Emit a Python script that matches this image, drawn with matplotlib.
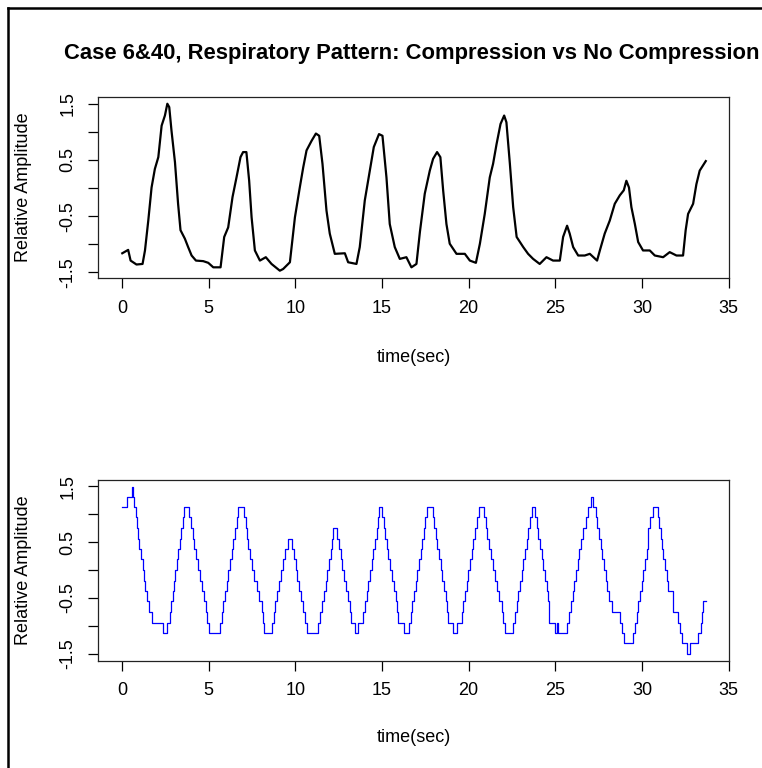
import matplotlib
matplotlib.use('Agg')
import matplotlib.pyplot as plt
from matplotlib.lines import Line2D

plt.rcParams['font.family'] = ['Liberation Sans', 'DejaVu Sans']

# compression case (top panel)
time_comp = [0.02, 0.36, 0.5, 0.84, 1.19, 1.33, 1.52, 1.71, 1.9, 2.1, 2.29, 2.48, 2.62, 2.73, 2.86,
             3.06, 3.24, 3.38, 3.63, 3.82, 4.02, 4.27, 4.69, 4.98, 5.27, 5.69, 5.9, 6.13, 6.38, 6.61,
             6.84, 6.99, 7.18, 7.34, 7.48, 7.67, 7.96, 8.3, 8.63, 9.11, 9.3, 9.69, 9.98, 10.26, 10.46,
             10.65, 10.94, 11.19, 11.38, 11.57, 11.8, 11.99, 12.28, 12.86, 13.05, 13.53, 13.72, 14.01,
             14.3, 14.53, 14.83, 15.03, 15.26, 15.45, 15.74, 16.03, 16.41, 16.7, 16.99, 17.19, 17.47,
             17.76, 17.95, 18.18, 18.37, 18.53, 18.72, 18.91, 19.3, 19.78, 20.07, 20.42, 20.65, 20.93,
             21.22, 21.41, 21.61, 21.84, 22.05, 22.18, 22.38, 22.57, 22.77, 23.15, 23.43, 23.72, 24.1,
             24.49, 24.87, 25.26, 25.45, 25.68, 25.83, 26.03, 26.32, 26.7, 26.99, 27.41, 27.57, 27.85,
             28.14, 28.43, 28.72, 28.95, 29.1, 29.25, 29.39, 29.59, 29.78, 30.06, 30.45, 30.74, 31.22,
             31.6, 31.99, 32.37, 32.52, 32.66, 32.95, 33.14, 33.33, 33.68]
amp_comp = [-1.16, -1.10, -1.29, -1.36, -1.35, -1.11, -0.58, 0.01, 0.34, 0.55, 1.11, 1.29, 1.50, 1.44, 1.02,
            0.46, -0.28, -0.75, -0.90, -1.05, -1.20, -1.29, -1.30, -1.33, -1.41, -1.41, -0.87, -0.70, -0.16, 0.19,
            0.55, 0.64, 0.64, 0.13, -0.52, -1.11, -1.29, -1.23, -1.35, -1.47, -1.44, -1.32, -0.52, 0.01, 0.37,
            0.67, 0.84, 0.97, 0.93, 0.43, -0.40, -0.81, -1.17, -1.16, -1.32, -1.35, -1.05, -0.22,
            0.31, 0.73, 0.96, 0.93, 0.19, -0.64, -1.05, -1.26, -1.23, -1.41, -1.35, -0.78, -0.10,
            0.31, 0.52, 0.64, 0.55, -0.04, -0.64, -0.99, -1.17, -1.17, -1.29, -1.33, -0.99, -0.46,
            0.19, 0.43, 0.78, 1.14, 1.29, 1.17, 0.43, -0.34, -0.87, -1.05, -1.17, -1.26, -1.35,
            -1.23, -1.29, -1.29, -0.87, -0.67, -0.81, -1.05, -1.20, -1.20, -1.17, -1.29, -1.11, -0.81,
            -0.58, -0.28, -0.13, -0.04, 0.13, 0.01, -0.34, -0.64, -0.96, -1.11, -1.11, -1.20, -1.23,
            -1.14, -1.20, -1.20, -0.75, -0.46, -0.28, 0.07, 0.31, 0.48]

# no compression case (bottom panel), step change points
time_nocomp = [0.02, 0.27, 0.56, 0.62, 0.69, 0.79, 0.85, 0.9, 1.0, 1.1, 1.19, 1.27, 1.35, 1.42, 1.54, 1.71,
               2.38, 2.62, 2.77, 2.85, 2.92, 3.0, 3.08, 3.15, 3.25, 3.35, 3.42, 3.5, 3.58,
               3.88, 3.96, 4.08, 4.15, 4.27, 4.37, 4.5, 4.6, 4.73, 4.85, 4.92, 5.0,
               5.65, 5.75, 5.85, 5.94, 6.04, 6.13, 6.23, 6.33, 6.42, 6.52, 6.62, 6.67,
               7.06, 7.13, 7.19, 7.29, 7.38, 7.52, 7.63, 7.77, 7.9, 8.06, 8.15, 8.17,
               8.67, 8.77, 8.85, 8.96, 9.06, 9.15, 9.27, 9.4, 9.6,
               9.83, 9.92, 10.02, 10.12, 10.21, 10.31, 10.42, 10.56, 10.69,
               11.32, 11.42, 11.52, 11.65, 11.75, 11.85, 11.94, 12.04, 12.13, 12.19,
               12.42, 12.54, 12.62, 12.71, 12.81, 12.92, 13.02, 13.15, 13.19, 13.44, 13.63,
               13.92, 14.02, 14.12, 14.21, 14.31, 14.4, 14.5, 14.6, 14.69, 14.75, 14.83,
               15.02, 15.12, 15.19, 15.27, 15.37, 15.46, 15.56, 15.69, 15.81, 15.88, 15.94, 16.27, 16.56,
               16.65, 16.75, 16.85, 16.94, 17.04, 17.13, 17.23, 17.33, 17.42, 17.48, 17.58,
               17.92, 18.0, 18.1, 18.19, 18.29, 18.38, 18.48, 18.58, 18.67, 18.77, 18.83, 19.08, 19.31,
               19.6, 19.69, 19.79, 19.88, 19.98, 20.08, 20.17, 20.27, 20.37, 20.46, 20.62,
               20.88, 20.98, 21.08, 21.17, 21.27, 21.38, 21.52, 21.62, 21.77, 21.9, 22.0, 22.1,
               22.58, 22.67, 22.77, 22.87, 22.96, 23.06, 23.15, 23.25, 23.35, 23.44, 23.54, 23.67,
               23.83, 23.92, 24.02, 24.12, 24.21, 24.31, 24.4, 24.5, 24.6, 24.65, 24.98, 25.08, 25.17,
               25.65, 25.81, 25.9, 26.0, 26.1, 26.19, 26.29, 26.38, 26.48, 26.58, 26.77, 26.9, 27.04,
               27.19, 27.35, 27.42, 27.52, 27.62, 27.71, 27.81, 27.92, 28.0, 28.1, 28.25, 28.73, 28.83, 28.96,
               29.5, 29.6, 29.69, 29.79, 29.88, 29.98, 30.08, 30.17, 30.27, 30.33, 30.37, 30.46, 30.62,
               30.9, 30.98, 31.08, 31.17, 31.23, 31.33, 31.42, 31.52, 31.77, 31.81, 32.1, 32.19, 32.29, 32.58,
               32.77, 33.25, 33.38, 33.48, 33.54, 33.68]
amp_nocomp = [1.12, 1.31, 1.49, 1.31, 1.12, 0.94, 0.75, 0.56, 0.38, 0.19, 0.0, -0.19, -0.38, -0.56, -0.75, -0.94,
              -1.12, -0.94, -0.75, -0.56, -0.38, -0.19, 0.0, 0.19, 0.38, 0.56, 0.75, 0.94, 1.12,
              0.94, 0.75, 0.56, 0.38, 0.19, 0.0, -0.19, -0.38, -0.56, -0.75, -0.94, -1.12,
              -0.94, -0.75, -0.56, -0.38, -0.19, 0.0, 0.19, 0.38, 0.56, 0.75, 0.94, 1.12,
              0.94, 0.75, 0.56, 0.38, 0.19, 0.0, -0.19, -0.38, -0.56, -0.75, -0.94, -1.12,
              -0.94, -0.75, -0.56, -0.38, -0.19, 0.0, 0.19, 0.38, 0.56,
              0.38, 0.19, 0.0, -0.19, -0.38, -0.56, -0.75, -0.94, -1.12,
              -0.94, -0.75, -0.56, -0.38, -0.19, 0.0, 0.19, 0.38, 0.56, 0.75,
              0.56, 0.38, 0.19, 0.0, -0.19, -0.38, -0.56, -0.75, -0.94, -1.12, -0.94,
              -0.75, -0.56, -0.38, -0.19, 0.0, 0.19, 0.38, 0.56, 0.75, 0.94, 1.12,
              0.94, 0.75, 0.56, 0.38, 0.19, 0.0, -0.19, -0.38, -0.56, -0.75, -0.94, -1.12, -0.94,
              -0.75, -0.56, -0.38, -0.19, 0.0, 0.19, 0.38, 0.56, 0.75, 0.94, 1.12,
              0.94, 0.75, 0.56, 0.38, 0.19, 0.0, -0.19, -0.38, -0.56, -0.75, -0.94, -1.12, -0.94,
              -0.75, -0.56, -0.38, -0.19, 0.0, 0.19, 0.38, 0.56, 0.75, 0.94, 1.12,
              0.94, 0.75, 0.56, 0.38, 0.19, 0.0, -0.19, -0.38, -0.56, -0.75, -0.94, -1.12,
              -0.94, -0.75, -0.56, -0.38, -0.19, 0.0, 0.19, 0.38, 0.56, 0.75, 0.94, 1.12,
              0.94, 0.75, 0.56, 0.38, 0.19, 0.0, -0.19, -0.38, -0.56, -0.94, -1.12, -0.94, -1.12,
              -0.94, -0.75, -0.56, -0.38, -0.19, 0.0, 0.19, 0.38, 0.56, 0.75, 0.94, 1.12, 1.31,
              1.12, 0.94, 0.75, 0.56, 0.38, 0.19, 0.0, -0.19, -0.38, -0.56, -0.75, -0.94, -1.12, -1.31,
              -1.12, -0.94, -0.75, -0.56, -0.38, -0.19, 0.0, 0.19, 0.38, 0.56, 0.75, 0.94, 1.12,
              0.94, 0.75, 0.56, 0.38, 0.19, 0.0, -0.19, -0.38, -0.56, -0.75, -0.94, -1.12, -1.31, -1.5,
              -1.31, -1.12, -0.94, -0.75, -0.56, -0.56]

xticks = [0, 5, 10, 15, 20, 25, 30, 35]
yticks = [-1.5, -1.0, -0.5, 0.0, 0.5, 1.0, 1.5]
ytick_labels = ['-1.5', '', '-0.5', '', '0.5', '', '1.5']
title = 'Case 6&40, Respiratory Pattern: Compression vs No Compression'

W, H = 762, 768
fig = plt.figure(figsize=(W / 100, H / 100), dpi=100)


def style_axes(ax, ylim):
    ax.set_xlim(-1.38, 35.02)
    ax.set_ylim(*ylim)
    ax.set_xticks(xticks)
    ax.set_xticklabels([str(x) for x in xticks])
    ax.set_yticks(yticks)
    ax.set_yticklabels(ytick_labels, rotation=90, va='center')
    ax.tick_params(direction='out', length=7.5, width=0.9, labelsize=13, colors='black')
    ax.tick_params(axis='y', pad=8)
    ax.tick_params(axis='x', pad=8)
    for s in ax.spines.values():
        s.set_linewidth(0.9)
        s.set_color('#222222')


# top panel
ax1 = fig.add_axes([98 / W, 1 - 278 / H, 631 / W, 181 / H])
ax1.plot(time_comp, amp_comp, color='black', linewidth=1.6)
style_axes(ax1, (-1.6, 1.62))

# bottom panel
ax2 = fig.add_axes([98 / W, 1 - 660.5 / H, 631 / W, 180.5 / H])
ax2.plot(time_nocomp, amp_nocomp, color='#0000ff', linewidth=0.9, drawstyle='steps-post')
style_axes(ax2, (-1.62, 1.61))

# labels
xc = (98 + 729) / 2 / W
fig.text(xc - 2 / W, 1 - 53 / H, title, ha='center', va='center', fontsize=15.8, fontweight='bold')
fig.text(xc, 1 - 357 / H, 'time(sec)', ha='center', va='center', fontsize=13)
fig.text(xc, 1 - 738 / H, 'time(sec)', ha='center', va='center', fontsize=13)
fig.text(24 / W, 1 - 187.5 / H, 'Relative Amplitude', ha='center', va='center', rotation=90, fontsize=13)
fig.text(24 / W, 1 - 570 / H, 'Relative Amplitude', ha='center', va='center', rotation=90, fontsize=13)

# frame on the left and top edges
fig.add_artist(Line2D([8 / W, 8 / W], [0, 1 - 8 / H], color='black', linewidth=1.8))
fig.add_artist(Line2D([8 / W, 1], [1 - 8 / H, 1 - 8 / H], color='black', linewidth=1.8))

fig.savefig('out.png', dpi=100, facecolor='white')
